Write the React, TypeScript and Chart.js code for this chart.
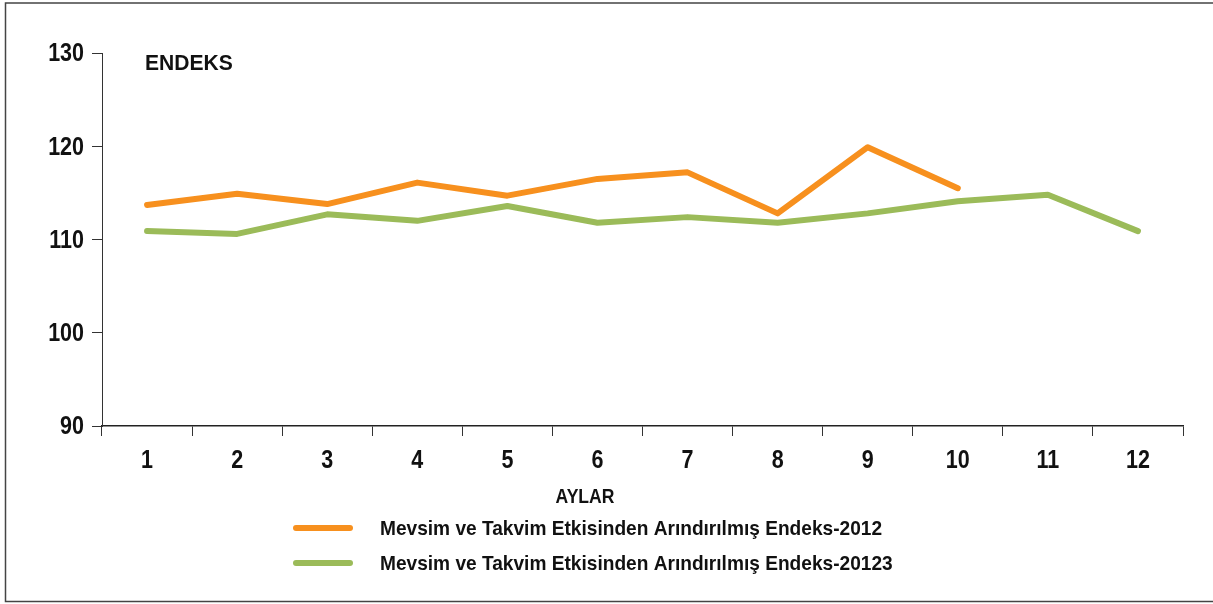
import React, { useEffect, useRef } from "react";
import { Chart, registerables } from "chart.js";

Chart.register(...registerables);

const months = ["1", "2", "3", "4", "5", "6", "7", "8", "9", "10", "11", "12"];
const series2012 = [113.7, 114.9, 113.8, 116.1, 114.7, 116.5, 117.2, 112.8, 119.9, 115.5, null, null];
const series20123 = [110.9, 110.6, 112.7, 112.0, 113.6, 111.8, 112.4, 111.8, 112.8, 114.1, 114.8, 110.9];
const label2012 = "Mevsim ve Takvim Etkisinden Arındırılmış Endeks-2012";
const label20123 = "Mevsim ve Takvim Etkisinden Arındırılmış Endeks-20123";
const yTitle = "ENDEKS";
const xTitle = "AYLAR";

const ORANGE = "#F7901E";
const GREEN = "#9BBB59";
const FONT = "'Liberation Sans', Arial, sans-serif";

function narrowText(ctx: any, text: string, x: number, y: number, size: number, align: string, sx: number) {
  ctx.save();
  ctx.font = `bold ${size}px ${FONT}`;
  ctx.textBaseline = "middle";
  ctx.textAlign = "left";
  const w = ctx.measureText(text).width * sx;
  let x0 = x;
  if (align === "center") x0 = x - w / 2;
  if (align === "right") x0 = x - w;
  ctx.translate(x0, y);
  ctx.scale(sx, 1);
  ctx.fillText(text, 0, 0);
  ctx.restore();
}

const decorPlugin = {
  id: "decor",
  afterDraw(chart: any) {
    const ctx = chart.ctx;
    ctx.save();
    ctx.strokeStyle = "#444";
    ctx.lineWidth = 1.5;
    ctx.strokeRect(5.5, 3, 1215, 598.5);
    ctx.fillStyle = "#111";
    const xs = chart.scales.x;
    xs.ticks.forEach((t: any, i: number) => {
      const lbl = xs.getLabelForValue(t.value);
      narrowText(ctx, lbl, xs.getPixelForTick(i), 461, 25, "center", 0.86);
    });
    const ysc = chart.scales.y;
    ysc.ticks.forEach((t: any, i: number) => {
      narrowText(ctx, String(t.value), 84, ysc.getPixelForTick(i) + 1.5, 25, "right", 0.86);
    });
    narrowText(ctx, yTitle, 145, 64, 21.5, "left", 0.98);
    narrowText(ctx, xTitle, 585, 498, 19.5, "center", 0.9);
    const ys = [528, 563];
    chart.data.datasets.forEach((ds: any, i: number) => {
      const y = ys[i];
      ctx.strokeStyle = ds.borderColor;
      ctx.lineWidth = 6;
      ctx.lineCap = "round";
      ctx.beginPath();
      ctx.moveTo(296, y);
      ctx.lineTo(350, y);
      ctx.stroke();
      ctx.fillStyle = "#111";
      narrowText(ctx, ds.label, 380, y + 1, 21, "left", 0.91);
    });
    ctx.restore();
  },
};

export default function App() {
  const ref = useRef<HTMLCanvasElement | null>(null);
  useEffect(() => {
    document.body.style.margin = "0";
    const chart = new Chart(ref.current as HTMLCanvasElement, {
      type: "line",
      data: {
        labels: months,
        datasets: [
          {
            label: label2012,
            data: series2012,
            borderColor: ORANGE,
            backgroundColor: ORANGE,
            borderWidth: 6,
            pointRadius: 0,
            borderCapStyle: "round",
            borderJoinStyle: "round",
            tension: 0,
            spanGaps: false,
          },
          {
            label: label20123,
            data: series20123,
            borderColor: GREEN,
            backgroundColor: GREEN,
            borderWidth: 6,
            pointRadius: 0,
            borderCapStyle: "round",
            borderJoinStyle: "round",
            tension: 0,
          },
        ],
      },
      options: {
        animation: false,
        responsive: false,
        maintainAspectRatio: false,
        layout: { padding: { left: 0, top: 53, right: 30, bottom: 0 } },
        plugins: {
          legend: { display: false },
          tooltip: { enabled: false },
          title: { display: false },
        },
        scales: {
          x: {
            type: "category",
            offset: true,
            grid: {
              display: true,
              offset: true,
              drawOnChartArea: false,
              drawTicks: true,
              tickLength: 10,
              tickColor: "#333",
              tickWidth: 1,
            },
            border: { display: true, color: "#222", width: 1.5 },
            ticks: { display: false, autoSkip: false, maxRotation: 0 },
            afterFit(scale: any) {
              scale.height = 178;
            },
          },
          y: {
            min: 90,
            max: 130,
            ticks: { display: false, stepSize: 10 },
            grid: {
              display: true,
              drawOnChartArea: false,
              drawTicks: true,
              tickLength: 10,
              tickColor: "#333",
              tickWidth: 1,
            },
            border: { display: true, color: "#333", width: 1 },
            afterFit(scale: any) {
              scale.width = 102;
            },
          },
        },
      },
      plugins: [decorPlugin],
    } as any);
    return () => chart.destroy();
  }, []);
  return (
    <div style={{ width: 1213, height: 604, overflow: "hidden" }}>
      <canvas ref={ref} width={1213} height={604} style={{ display: "block" }} />
    </div>
  );
}
